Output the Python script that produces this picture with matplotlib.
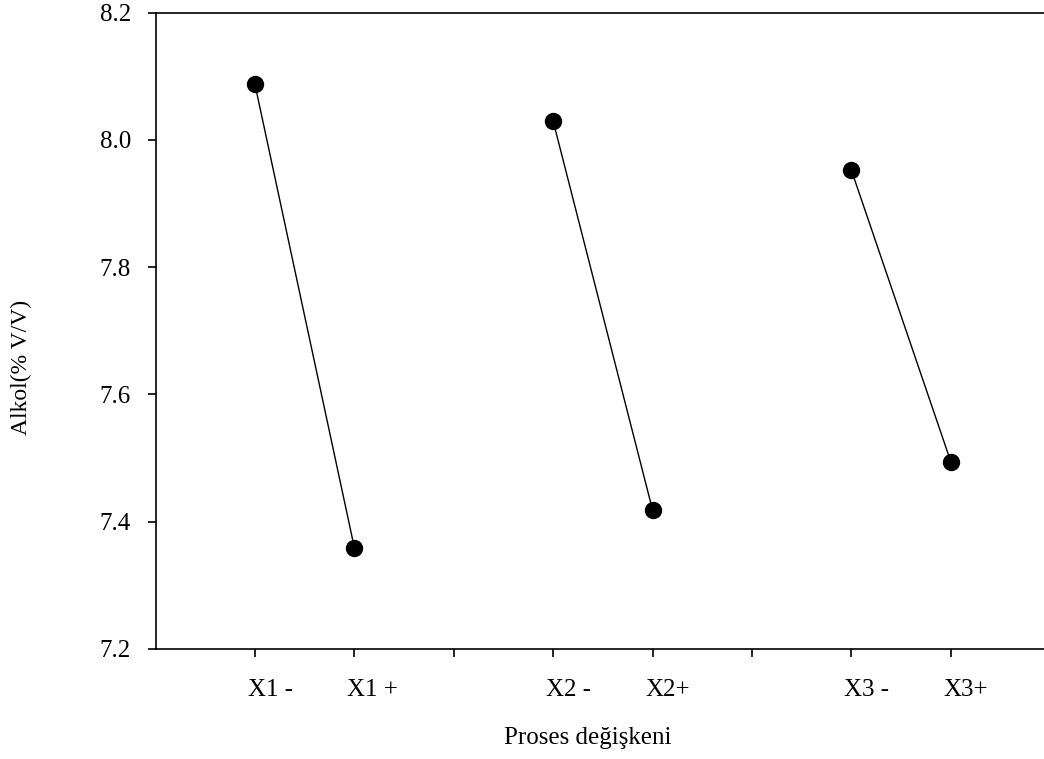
import matplotlib.pyplot as plt
from matplotlib.transforms import ScaledTranslation

plt.rcParams['font.family'] = ['Liberation Serif', 'DejaVu Serif']

labels = ["X1 -", "X1 +", "", "X2 -", "X2+", "", "X3 -", "X3+"]
positions = [1, 2, 3, 4, 5, 6, 7, 8]

# (minus level, plus level) for each process variable
x1 = [8.087, 7.359]
x2 = [8.029, 7.418]
x3 = [7.952, 7.494]

fig = plt.figure(figsize=(10.44, 7.59), dpi=100)
ax = fig.add_axes([0.149, 0.145, 0.857, 0.8385])

for pos, vals in zip([[1, 2], [4, 5], [7, 8]], [x1, x2, x3]):
    ax.plot(pos, vals, color='black', lw=1.0, marker='o', markersize=11.5)

ax.set_xlim(0, 9)
ax.set_ylim(7.2, 8.2)
ax.set_yticks([7.2, 7.4, 7.6, 7.8, 8.0, 8.2])
ax.set_yticklabels(["7.2", "7.4", "7.6", "7.8", "8.0", "8.2"])
ax.set_xticks(positions)
ax.set_xticklabels(labels)

ax.spines['right'].set_visible(False)
for s in ['left', 'bottom', 'top']:
    ax.spines[s].set_linewidth(1.2)

ax.tick_params(axis='both', direction='out', length=5.8, width=1.2, labelsize=18)
ax.tick_params(axis='y', pad=12)
ax.tick_params(axis='x', pad=15.5)

# x labels start a little left of their tick
shift = ScaledTranslation(-7 / 100, 0, fig.dpi_scale_trans)
for lbl in ax.get_xticklabels():
    lbl.set_ha('left')
    lbl.set_transform(lbl.get_transform() + shift)

ax.set_xlabel("Proses değişkeni", fontsize=18, va='center')
ax.xaxis.set_label_coords(0.483, -0.140)
ax.set_ylabel("Alkol(% V/V)", fontsize=17, va='center')
ax.yaxis.set_label_coords(-0.150, 0.443)

fig.savefig("out.png", dpi=100)
